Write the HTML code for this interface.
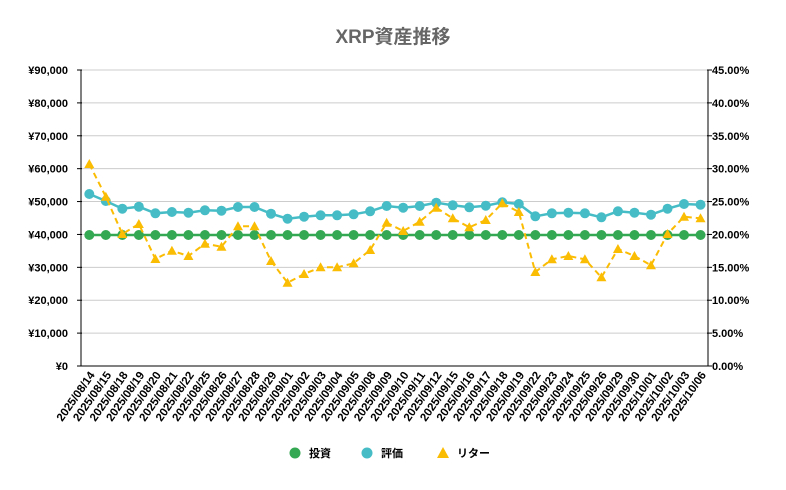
<!DOCTYPE html>
<html><head><meta charset="utf-8"><style>
body{margin:0;background:#fff;width:786px;height:485px;overflow:hidden}
text{font-family:"Liberation Sans","Noto Sans CJK JP",sans-serif}
</style></head><body>
<svg id="s" width="786" height="485" xmlns="http://www.w3.org/2000/svg">
<rect width="786" height="485" fill="#fff"/>
<text x="393" y="43" text-anchor="middle" font-size="19" font-weight="bold" fill="#666">XRP資産推移</text>
<g id="grid"></g>
<g id="lbl" font-size="11" font-weight="bold" fill="#000"></g>
<g id="xl" font-size="11.5" font-weight="bold" fill="#000"></g>
<g id="ser"></g>
<g font-size="11" font-weight="bold">
<circle cx="295" cy="453" r="5.5" fill="#34a853"/><text x="309" y="457">投資</text>
<circle cx="367" cy="453" r="5.5" fill="#46bdc6"/><text x="381" y="457">評価</text>
<polygon points="443,447 449,458 437,458" fill="#fbbc04"/><text x="457" y="457">リター</text>
</g>
</svg>
<script>
(function(){
const ns="http://www.w3.org/2000/svg";
function el(p,t,a,txt){const e=document.createElementNS(ns,t);for(const k in a)e.setAttribute(k,a[k]);if(txt!==undefined)e.textContent=txt;document.getElementById(p).appendChild(e);return e;}
const T0=70,B0=366,L=81,R=708;
function fmt(n){return String(n).replace(/\B(?=(\d{3})+(?!\d))/g,",");}
for(let i=0;i<=9;i++){const y=B0-(B0-T0)*i/9;
 if(i>0)el("grid","line",{x1:L,x2:R,y1:y,y2:y,stroke:"#ccc","stroke-width":1});
 el("grid","line",{x1:L-4,x2:L+1,y1:y,y2:y,stroke:"#000"});
 el("grid","line",{x1:R-1,x2:R+4,y1:y,y2:y,stroke:"#000"});
 el("lbl","text",{x:68,y:y+4,"text-anchor":"end"},"¥"+fmt(i*10000));
 el("lbl","text",{x:712,y:y+4},(i*5).toFixed(2)+"%");
}
el("grid","line",{x1:L,x2:L,y1:T0,y2:B0,stroke:"#000"});
el("grid","line",{x1:R,x2:R,y1:T0,y2:B0,stroke:"#000"});
el("grid","line",{x1:L,x2:R,y1:B0,y2:B0,stroke:"#000"});
const d=["08/14","08/15","08/18","08/19","08/20","08/21","08/22","08/25","08/26","08/27","08/28","08/29","09/01","09/02","09/03","09/04","09/05","09/08","09/09","09/10","09/11","09/12","09/15","09/16","09/17","09/18","09/19","09/22","09/23","09/24","09/25","09/26","09/29","09/30","10/01","10/02","10/03","10/06"];
const X=i=>89.3+i*16.52;
d.forEach((s,i)=>{const x=X(i)+6,y=375;el("xl","text",{x:x,y:y,"text-anchor":"end",transform:"rotate(-55 "+x+" "+y+")"},"2025/"+s);});
const b=[194,201,208.7,206.7,213.3,212,212.7,210.3,210.7,207,207,213.7,218.7,216.7,215.3,215.3,214.3,211.3,206,207.7,206,202.7,205.3,207.3,205.7,202.3,204,216.3,213.3,212.7,213.3,217.3,211.3,212.7,214.7,208.7,204,204.7];
const r=[164,196.7,234,224,259,250.7,256,243.7,246.7,226.3,226.3,261,282.7,274,267.3,267.3,263.3,250,222.7,231,221.7,207.7,218.3,227.3,220,203.3,212,272,259.3,256,259.3,277.3,249,256,265.3,234,216.7,218.3];
const pts=a=>a.map((y,i)=>X(i)+","+y).join(" ");
el("ser","polyline",{points:pts(d.map(()=>235)),fill:"none",stroke:"#34a853","stroke-width":2.5});
d.forEach((s,i)=>el("ser","circle",{cx:X(i),cy:235,r:5,fill:"#34a853"}));
el("ser","polyline",{points:pts(b),fill:"none",stroke:"#46bdc6","stroke-width":2.5});
b.forEach((y,i)=>el("ser","circle",{cx:X(i),cy:y,r:5,fill:"#46bdc6"}));
el("ser","polyline",{points:pts(r),fill:"none",stroke:"#fbbc04","stroke-width":2,"stroke-dasharray":"6,4"});
r.forEach((y,i)=>{const x=X(i);el("ser","polygon",{points:x+","+(y-5)+" "+(x+5)+","+(y+4)+" "+(x-5)+","+(y+4),fill:"#fbbc04"});});
})();
</script>
</body></html>
